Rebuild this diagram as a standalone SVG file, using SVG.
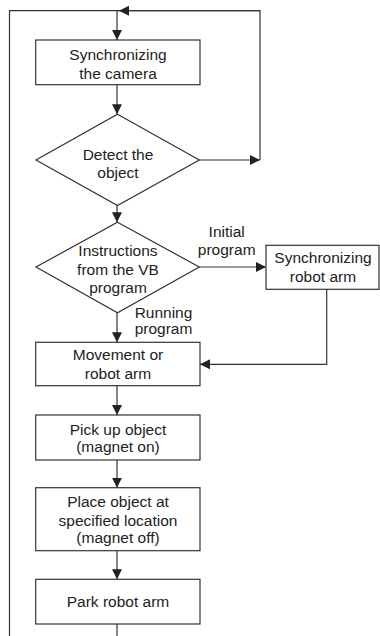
<svg xmlns="http://www.w3.org/2000/svg" width="380" height="636" viewBox="0 0 380 636">
<defs>
<marker id="ah" viewBox="0 0 10 10" refX="10" refY="5" markerWidth="10" markerHeight="10" markerUnits="userSpaceOnUse" orient="auto">
<path d="M0,0 L10,5 L0,10 Z" fill="#222"/>
</marker>
<style>
.s{fill:#fff;stroke:#333;stroke-width:1.2}
.c{fill:none;stroke:#333;stroke-width:1.2}
text{font-family:"Liberation Sans",Arial,sans-serif;font-size:15.5px;fill:#222;text-anchor:middle}
</style>
</defs>
<rect width="380" height="636" fill="#fff"/>
<g id="connectors">
<polyline class="c" points="9.5,636 9.5,10.7 260,10.7"/>
<polyline class="c" points="260,160 260,10.7 119,10.7" marker-end="url(#ah)"/>
<line class="c" x1="117" y1="10.7" x2="117" y2="40" marker-end="url(#ah)"/>
<line class="c" x1="117" y1="84.7" x2="117" y2="114.3" marker-end="url(#ah)"/>
<line class="c" x1="199.3" y1="160" x2="260" y2="160" marker-end="url(#ah)"/>
<line class="c" x1="117" y1="205.5" x2="117" y2="222.3" marker-end="url(#ah)"/>
<line class="c" x1="199.3" y1="267" x2="266" y2="267" marker-end="url(#ah)"/>
<polyline class="c" points="326.7,289.3 326.7,364.3 200,364.3" marker-end="url(#ah)"/>
<line class="c" x1="117" y1="312.7" x2="117" y2="342.3" marker-end="url(#ah)"/>
<line class="c" x1="117" y1="385.7" x2="117" y2="415" marker-end="url(#ah)"/>
<line class="c" x1="117" y1="460" x2="117" y2="487.7" marker-end="url(#ah)"/>
<line class="c" x1="117" y1="550.7" x2="117" y2="579.3" marker-end="url(#ah)"/>
<line class="c" x1="117" y1="624" x2="117" y2="636"/>
</g>
<g id="labels">
<text x="226.7" y="237.3">Initial</text>
<text x="226.7" y="254.5">program</text>
<text x="163.5" y="318.3">Running</text>
<text x="163.5" y="334">program</text>
</g>
<g id="sync-camera">
<rect class="s" x="35.7" y="40" width="164.3" height="44.7"/>
<text x="118" y="60">Synchronizing</text>
<text x="118" y="78.5">the camera</text>
</g>
<g id="detect">
<polygon class="s" points="117.5,114.3 199.3,160 117.5,205.5 36,160"/>
<text x="118" y="159.5">Detect the</text>
<text x="118" y="178">object</text>
</g>
<g id="instructions">
<polygon class="s" points="117.5,222.3 199.3,267 117.5,312.7 36,267"/>
<text x="118" y="256">Instructions</text>
<text x="118" y="275">from the VB</text>
<text x="118" y="292.5">program</text>
</g>
<g id="sync-arm">
<rect class="s" x="266" y="245.3" width="113" height="44"/>
<text x="323" y="263.3">Synchronizing</text>
<text x="323" y="281.7">robot arm</text>
</g>
<g id="movement">
<rect class="s" x="35.7" y="342.3" width="164.3" height="43.4"/>
<text x="118" y="360">Movement or</text>
<text x="118" y="379">robot arm</text>
</g>
<g id="pickup">
<rect class="s" x="35.7" y="415" width="164.3" height="45"/>
<text x="118" y="435">Pick up object</text>
<text x="118" y="451.5">(magnet on)</text>
</g>
<g id="place">
<rect class="s" x="35.7" y="487.7" width="164.3" height="63"/>
<text x="118" y="506.7">Place object at</text>
<text x="118" y="525.5">specified location</text>
<text x="118" y="542.5">(magnet off)</text>
</g>
<g id="park">
<rect class="s" x="35.7" y="579.3" width="164.3" height="44.7"/>
<text x="118" y="606.7">Park robot arm</text>
</g>
</svg>
